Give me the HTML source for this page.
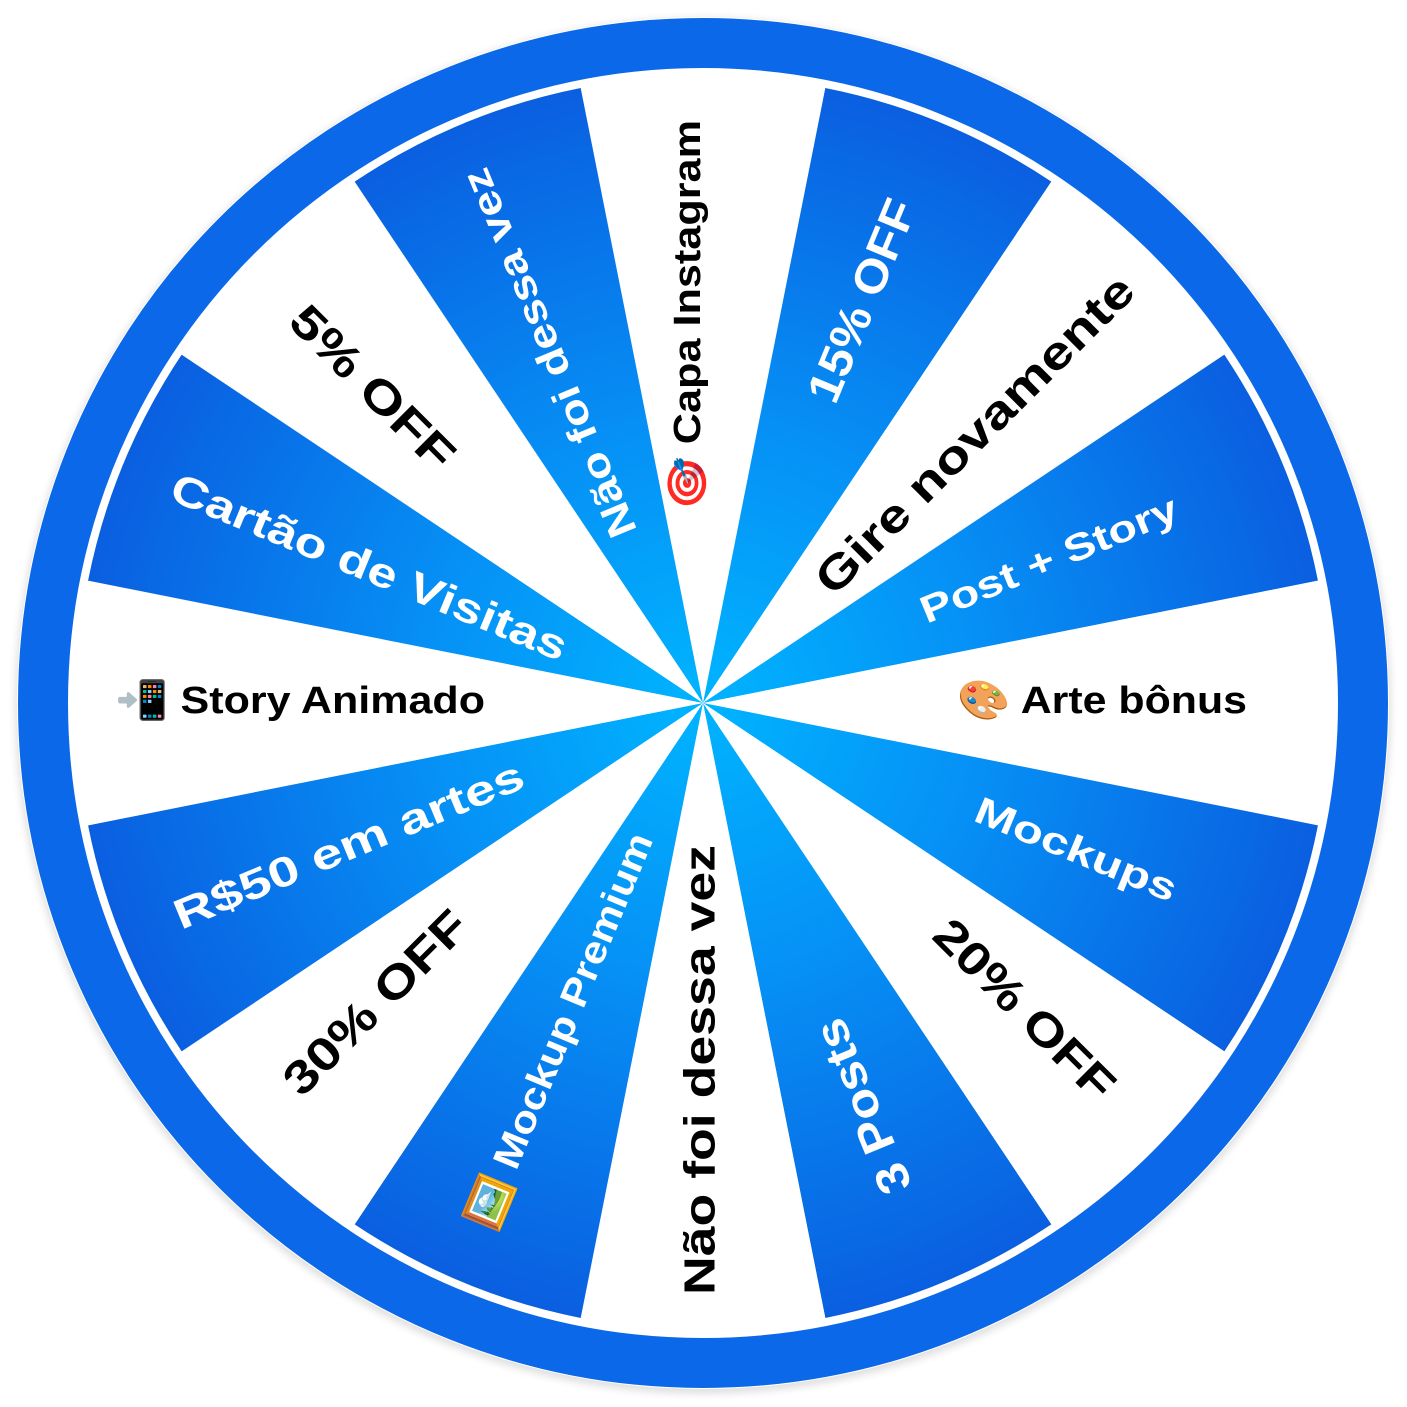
<!DOCTYPE html>
<html><head><meta charset="utf-8"><style>
html,body{margin:0;padding:0;background:#fff;width:1407px;height:1407px;overflow:hidden}
svg{display:block}
text{font-family:"Liberation Sans","DejaVu Sans",sans-serif;font-weight:bold}
</style></head><body>
<svg width="1407" height="1407" viewBox="0 0 1407 1407" xmlns="http://www.w3.org/2000/svg">
<defs>
<radialGradient id="g" cx="703" cy="703" r="627" gradientUnits="userSpaceOnUse">
<stop offset="0" stop-color="#00b4ff"/>
<stop offset="0.45" stop-color="#0690f5"/>
<stop offset="1" stop-color="#0a5fe0"/>
</radialGradient>
<filter id="sh" x="-5%" y="-5%" width="110%" height="110%"><feGaussianBlur stdDeviation="4"/></filter>
</defs>
<circle cx="703" cy="706" r="688" fill="#000" opacity="0.12" filter="url(#sh)"/>
<circle cx="703" cy="703" r="686" fill="#fff"/>
<g id="w"></g>
<circle cx="703" cy="703" r="660" fill="none" stroke="#0b68e8" stroke-width="50"/>
<g font-size="38">
<text x="700" y="315" transform="rotate(-90 700 315)" text-anchor="middle" fill="#000" textLength="390" lengthAdjust="spacingAndGlyphs">🎯 Capa Instagram</text>
<text x="865" y="302" transform="rotate(-67.5 865 302)" text-anchor="middle" dominant-baseline="middle" fill="#fff" font-size="46" textLength="215" lengthAdjust="spacingAndGlyphs">15% OFF</text>
<text x="977" y="437" transform="rotate(-45 977 437)" text-anchor="middle" dominant-baseline="middle" fill="#000" font-size="46" textLength="430" lengthAdjust="spacingAndGlyphs">Gire novamente</text>
<text x="1050" y="562" transform="rotate(-22.5 1050 562)" text-anchor="middle" dominant-baseline="middle" fill="#fff" textLength="275" lengthAdjust="spacingAndGlyphs">Post + Story</text>
<text x="1102" y="703" text-anchor="middle" dominant-baseline="middle" fill="#000" textLength="290" lengthAdjust="spacingAndGlyphs">🎨 Arte bônus</text>
<text x="1075" y="852" transform="rotate(22.5 1075 852)" text-anchor="middle" dominant-baseline="middle" fill="#fff" textLength="215" lengthAdjust="spacingAndGlyphs">Mockups</text>
<text x="1022" y="1012" transform="rotate(45 1022 1012)" text-anchor="middle" dominant-baseline="middle" fill="#000" font-size="46" textLength="235" lengthAdjust="spacingAndGlyphs">20% OFF</text>
<text x="866" y="1105" transform="rotate(-112.5 866 1105)" text-anchor="middle" dominant-baseline="middle" fill="#fff" font-size="46" textLength="185" lengthAdjust="spacingAndGlyphs">3 Posts</text>
<text x="703" y="1070" transform="rotate(-90 703 1070)" text-anchor="middle" dominant-baseline="middle" fill="#000" font-size="44" textLength="450" lengthAdjust="spacingAndGlyphs">Não foi dessa vez</text>
<text x="563" y="1032" transform="rotate(-67.5 563 1032)" text-anchor="middle" dominant-baseline="middle" fill="#fff" textLength="425" lengthAdjust="spacingAndGlyphs">🖼️ Mockup Premium</text>
<text x="378" y="1005" transform="rotate(-45 378 1005)" text-anchor="middle" dominant-baseline="middle" fill="#000" font-size="46" textLength="240" lengthAdjust="spacingAndGlyphs">30% OFF</text>
<text x="350" y="848" transform="rotate(-22.5 350 848)" text-anchor="middle" dominant-baseline="middle" fill="#fff" font-size="42" textLength="375" lengthAdjust="spacingAndGlyphs">R$50 em artes</text>
<text x="300" y="703" text-anchor="middle" dominant-baseline="middle" fill="#000" textLength="370" lengthAdjust="spacingAndGlyphs">📲 Story Animado</text>
<text x="368" y="570" transform="rotate(22.5 368 570)" text-anchor="middle" dominant-baseline="middle" fill="#fff" font-size="42" textLength="425" lengthAdjust="spacingAndGlyphs">Cartão de Visitas</text>
<text x="370" y="390" transform="rotate(45 370 390)" text-anchor="middle" dominant-baseline="middle" fill="#000" font-size="46" textLength="212" lengthAdjust="spacingAndGlyphs">5% OFF</text>
<text x="552" y="352" transform="rotate(-112.5 552 352)" text-anchor="middle" dominant-baseline="middle" fill="#fff" font-size="40" textLength="395" lengthAdjust="spacingAndGlyphs">Não foi dessa vez</text>
</g>
</svg>
<script>
(function(){
var g=document.getElementById('w'),cx=703,cy=703,r=627,s='';
for(var i=0;i<16;i++){
 var c=-90+i*22.5,a1=(c-11.25)*Math.PI/180,a2=(c+11.25)*Math.PI/180;
 var x1=cx+r*Math.cos(a1),y1=cy+r*Math.sin(a1),x2=cx+r*Math.cos(a2),y2=cy+r*Math.sin(a2);
 var f=(i%2)?'url(#g)':'#fff';
 s+='<path d="M'+cx+' '+cy+'L'+x1.toFixed(2)+' '+y1.toFixed(2)+'A'+r+' '+r+' 0 0 1 '+x2.toFixed(2)+' '+y2.toFixed(2)+'Z" fill="'+f+'"/>';
}
g.innerHTML=s;
})();
</script>
</body></html>
